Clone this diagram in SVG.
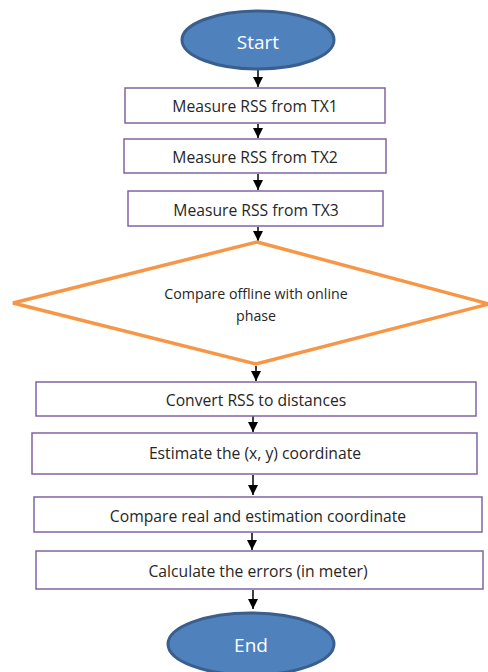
<svg xmlns="http://www.w3.org/2000/svg" width="488" height="672" viewBox="0 0 488 672">
<defs>
<style>
.box{fill:#fff;stroke:#8064A2;stroke-width:1.5}
.term{fill:#4F81BD;stroke:#3A5F8E;stroke-width:3}
.dec{fill:#fff;stroke:#F79646;stroke-width:3.5;stroke-linejoin:miter}
.t{font-family:"Open Sans","Liberation Sans",sans-serif;font-size:15.7px;fill:#262626;text-anchor:middle;dominant-baseline:central}
.td{font-family:"Open Sans","Liberation Sans",sans-serif;font-size:14.2px;fill:#262626;text-anchor:middle;dominant-baseline:central}
.tw{font-family:"Open Sans","Liberation Sans",sans-serif;font-size:19px;fill:#fff;text-anchor:middle;dominant-baseline:central}
.c{stroke:#000;stroke-width:1.5;fill:none;marker-end:url(#ah)}
</style>
<marker id="ah" viewBox="0 0 10 10" refX="10" refY="5" markerWidth="10" markerHeight="10" markerUnits="userSpaceOnUse" orient="auto">
<path d="M0,0 L10,5 L0,10 z" fill="#000"/>
</marker>
</defs>
<g id="connectors">
<line class="c" x1="258" y1="70" x2="258" y2="87"/>
<line class="c" x1="258" y1="124" x2="258" y2="138"/>
<line class="c" x1="258" y1="174" x2="258" y2="190"/>
<line class="c" x1="258" y1="227" x2="258" y2="241"/>
<line class="c" x1="256" y1="366" x2="256" y2="381"/>
<line class="c" x1="253" y1="416" x2="253" y2="432"/>
<line class="c" x1="253" y1="475" x2="253" y2="495"/>
<line class="c" x1="252" y1="533" x2="252" y2="550"/>
<line class="c" x1="253" y1="590" x2="253" y2="609"/>
</g>
<g id="start">
<ellipse class="term" cx="258" cy="40" rx="76" ry="29"/>
<text class="tw" x="258" y="42">Start</text>
</g>
<g id="tx1">
<rect class="box" x="125" y="88" width="260" height="35"/>
<text class="t" x="255" y="106">Measure RSS from TX1</text>
</g>
<g id="tx2">
<rect class="box" x="124" y="139" width="262" height="34"/>
<text class="t" x="255" y="157">Measure RSS from TX2</text>
</g>
<g id="tx3">
<rect class="box" x="128" y="191" width="255" height="35"/>
<text class="t" x="256" y="210">Measure RSS from TX3</text>
</g>
<g id="compare">
<polygon class="dec" points="257,242 489,304 256,364 13,303"/>
<text class="td" x="256" y="293">Compare offline with online</text>
<text class="td" x="256" y="315">phase</text>
</g>
<g id="convert">
<rect class="box" x="36" y="382" width="440" height="34"/>
<text class="t" x="256" y="400">Convert RSS to distances</text>
</g>
<g id="estimate">
<rect class="box" x="32" y="433" width="445" height="41"/>
<text class="t" x="255" y="453">Estimate the (x, y) coordinate</text>
</g>
<g id="comparecoord">
<rect class="box" x="34" y="497" width="448" height="35"/>
<text class="t" x="258" y="516">Compare real and estimation coordinate</text>
</g>
<g id="errors">
<rect class="box" x="36" y="551" width="447" height="38"/>
<text class="t" x="258" y="571">Calculate the errors (in meter)</text>
</g>
<g id="end">
<ellipse class="term" cx="251" cy="644" rx="83" ry="31"/>
<text class="tw" x="251" y="645">End</text>
</g>
</svg>
